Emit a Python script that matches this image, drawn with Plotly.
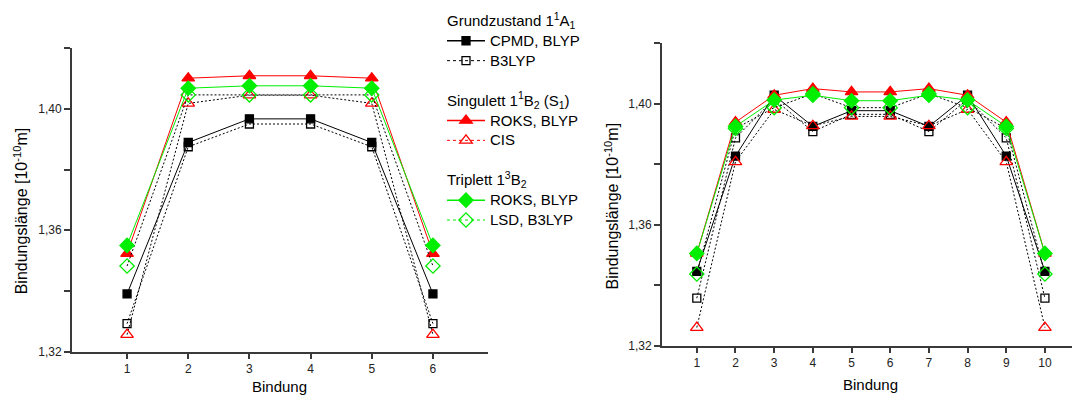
import plotly.graph_objects as go

# ---------------- data ----------------
bonds_left = [1, 2, 3, 4, 5, 6]
bonds_right = [1, 2, 3, 4, 5, 6, 7, 8, 9, 10]

# left chart (6 bonds)
L_cpmd_blyp = [1.339, 1.3889, 1.3967, 1.3967, 1.3889, 1.339]
L_b3lyp = [1.3292, 1.3875, 1.3950, 1.3950, 1.3875, 1.3292]
L_s1_roks = [1.3523, 1.4101, 1.4109, 1.4109, 1.4101, 1.3523]
L_s1_cis = [1.3256, 1.4018, 1.4045, 1.4045, 1.4018, 1.3256]
L_t1_roks = [1.3550, 1.4068, 1.4076, 1.4076, 1.4068, 1.3550]
L_t1_lsd = [1.3482, 1.4046, 1.4046, 1.4046, 1.4046, 1.3482]

# right chart (10 bonds)
R_cpmd_blyp = [1.3446, 1.3827, 1.4028, 1.3925, 1.3977, 1.3977, 1.3925, 1.4028, 1.3827, 1.3446]
R_b3lyp = [1.3357, 1.3887, 1.4015, 1.3908, 1.3965, 1.3965, 1.3908, 1.4015, 1.3887, 1.3357]
R_s1_roks = [1.3505, 1.3939, 1.4028, 1.4050, 1.4039, 1.4039, 1.4050, 1.4028, 1.3939, 1.3505]
R_s1_cis = [1.3260, 1.3808, 1.3981, 1.3927, 1.3958, 1.3958, 1.3927, 1.3981, 1.3808, 1.3260]
R_t1_roks = [1.3505, 1.3925, 1.4012, 1.4028, 1.4010, 1.4010, 1.4028, 1.4012, 1.3925, 1.3505]
R_t1_lsd = [1.3437, 1.3918, 1.3987, 1.4033, 1.3987, 1.3987, 1.4033, 1.3987, 1.3918, 1.3437]

y_tickvals = [1.32, 1.34, 1.36, 1.38, 1.40, 1.42]
y_ticktext = ["1,32", "", "1,36", "", "1,40", ""]

FONT = "Liberation Sans, Arial, sans-serif"
BLACK = "#000000"
RED = "#ff0000"
GREEN = "#00ee00"

series = [
    ("CPMD, BLYP", "g0", "Grundzustand 1<sup>1</sup>A<sub>1</sub>", BLACK, "square", 8, True, L_cpmd_blyp, R_cpmd_blyp),
    ("B3LYP", "g0", None, BLACK, "square-open", 8, False, L_b3lyp, R_b3lyp),
    ("ROKS, BLYP", "g1", "Singulett 1<sup>1</sup>B<sub>2</sub> (S<sub>1</sub>)", RED, "triangle-up", 11, True, L_s1_roks, R_s1_roks),
    ("CIS", "g1", None, RED, "triangle-up-open", 11, False, L_s1_cis, R_s1_cis),
    ("ROKS, BLYP", "g2", "Triplett 1<sup>3</sup>B<sub>2</sub>", GREEN, "diamond", 11, True, L_t1_roks, R_t1_roks),
    ("LSD, B3LYP", "g2", None, GREEN, "diamond-open", 11, False, L_t1_lsd, R_t1_lsd),
]

draw_order = [0, 1, 3, 2, 5, 4]

fig = go.Figure()

for idx in draw_order:
    name, grp, gtitle, color, sym, size, filled, yl, yr = series[idx]
    line_col = color if filled else "#000000"
    dash = "solid" if filled else "2px,2px"
    for xs, ys, xa, ya in ((bonds_left, yl, "x", "y"), (bonds_right, yr, "x2", "y2")):
        fig.add_trace(go.Scatter(
            x=xs, y=ys, xaxis=xa, yaxis=ya, mode="lines+markers",
            line=dict(color=line_col, width=1, dash=dash),
            marker=dict(symbol=sym, size=size, color=color,
                        line=dict(color=color, width=1.3)),
            showlegend=False, hoverinfo="x+y",
        ))

SPAN = '<span style="font-size:15px">{}</span>'

for idx in range(len(series)):
    name, grp, gtitle, color, sym, size, filled, yl, yr = series[idx]
    kw = {}
    if gtitle:
        kw["legendgrouptitle"] = dict(text=SPAN.format(gtitle),
                                      font=dict(size=13, color="#000", family=FONT))
    fig.add_trace(go.Scatter(
        x=[None], y=[None], mode="lines+markers", name=SPAN.format(name), legendgroup=grp,
        line=dict(color=color, width=1.5 if filled else 1, dash="solid" if filled else "dot"),
        marker=dict(symbol=sym, size=size, color=color, line=dict(color=color, width=1.3)),
        showlegend=True, **kw,
    ))

W, H = 1072, 409
axis_common = dict(showline=True, linecolor="#3a3a3a", linewidth=2, showgrid=False,
                   zeroline=False, ticks="outside", tickcolor="#3a3a3a", tickwidth=1.5,
                   tickfont=dict(size=12, color="#222", family=FONT), mirror=False)

fig.update_layout(
    width=W, height=H,
    margin=dict(l=0, r=0, t=0, b=0),
    paper_bgcolor="white", plot_bgcolor="white",
    font=dict(family=FONT, color="#000"),
    xaxis=dict(domain=[72 / W, 488 / W], range=[0.1, 6.9], tickvals=bonds_left,
               ticklen=5, anchor="y", **axis_common),
    yaxis=dict(domain=[1 - 357.7 / H, 1 - 49 / H], range=[1.32, 1.42], tickvals=y_tickvals,
               ticktext=y_ticktext, ticklen=6, anchor="x", **axis_common),
    xaxis2=dict(domain=[662 / W, 1.0], range=[0.1, 10.7], tickvals=bonds_right,
                ticklen=5, anchor="y2", **axis_common),
    yaxis2=dict(domain=[1 - 351.7 / H, 1 - 44 / H], range=[1.32, 1.42], tickvals=y_tickvals,
                ticktext=y_ticktext, ticklen=6, anchor="x2", **axis_common),
    legend=dict(x=442 / W, y=1 - 6 / H, xanchor="left", yanchor="top",
                traceorder="grouped", tracegroupgap=20,
                font=dict(size=13, color="#000", family=FONT),
                bgcolor="rgba(0,0,0,0)", itemwidth=38),
    showlegend=True,
)

ytitle = "Bindungsl\u00e4nge [10<sup>-10</sup>m]"
annos = [
    dict(text=ytitle, x=21 / W, y=1 - 215 / H, textangle=-90, font=dict(size=16, color="#000", family=FONT)),
    dict(text=ytitle, x=612 / W, y=1 - 210 / H, textangle=-90, font=dict(size=16, color="#000", family=FONT)),
    dict(text="Bindung", x=279 / W, y=1 - 393 / H, font=dict(size=15, color="#000", family=FONT)),
    dict(text="Bindung", x=870 / W, y=1 - 391 / H, font=dict(size=15, color="#000", family=FONT)),
]
for a in annos:
    fig.add_annotation(xref="paper", yref="paper", showarrow=False,
                       xanchor="center", yanchor="middle", **a)

fig.write_html("out.html")
